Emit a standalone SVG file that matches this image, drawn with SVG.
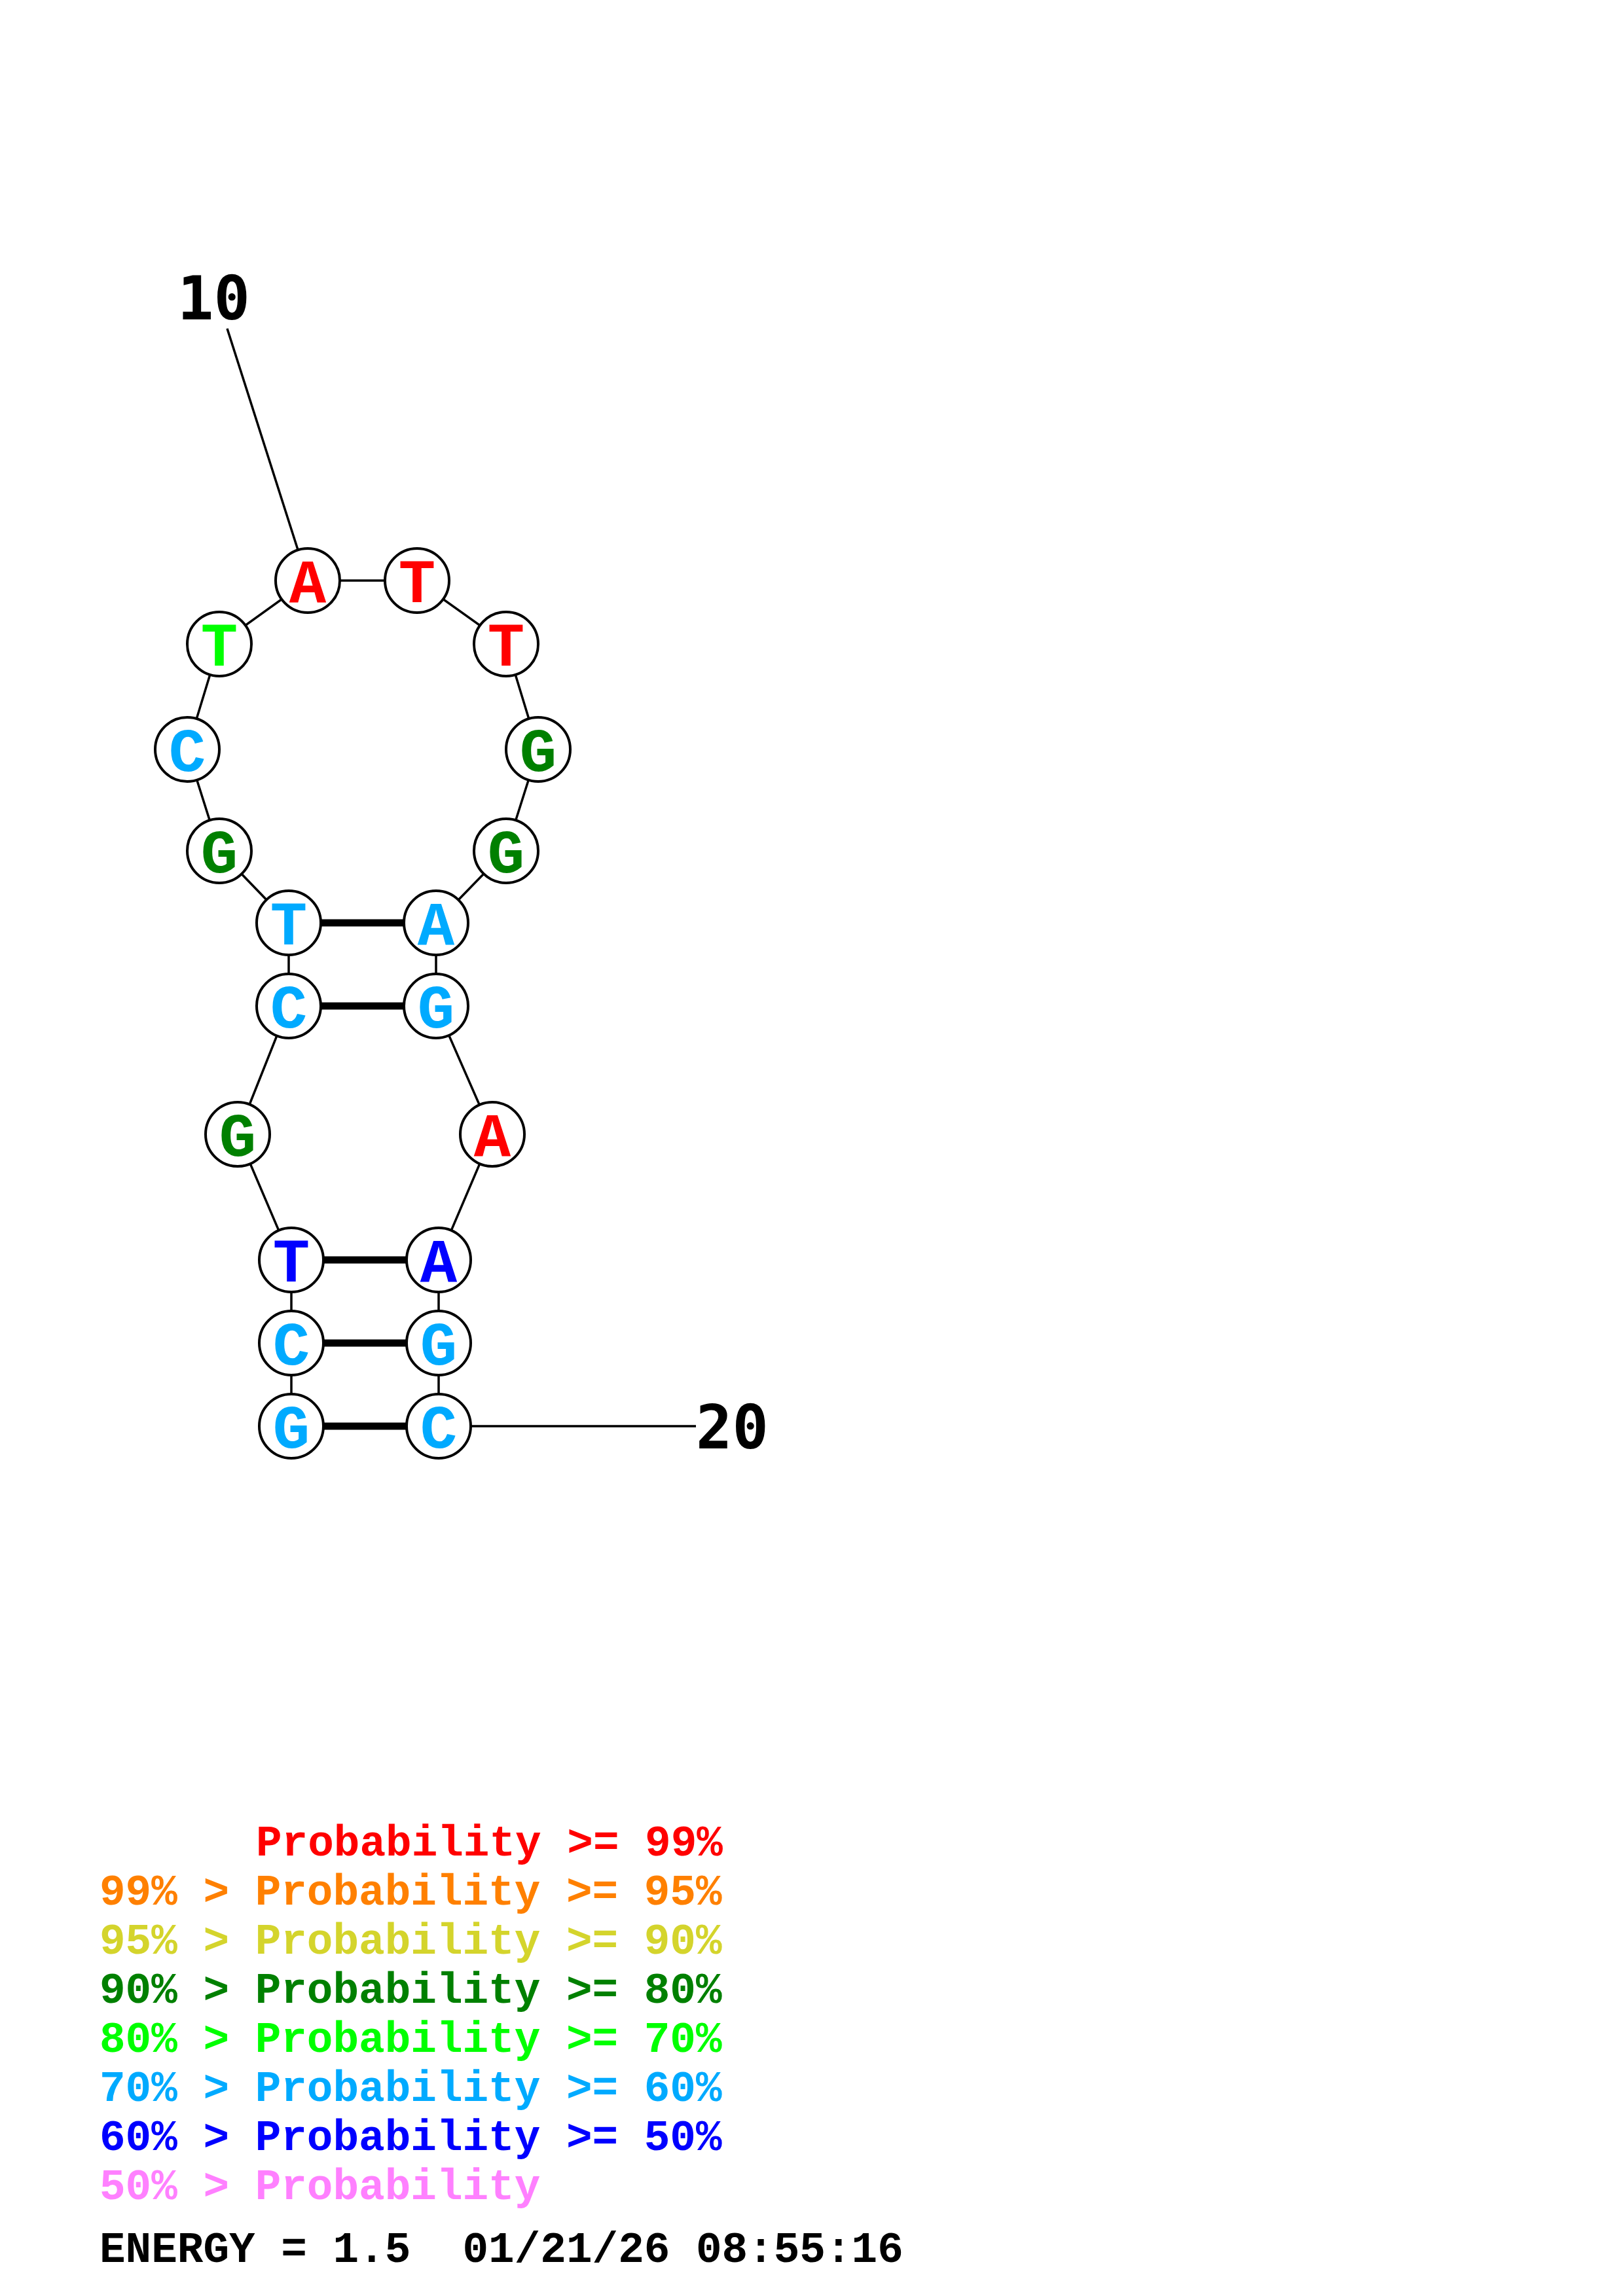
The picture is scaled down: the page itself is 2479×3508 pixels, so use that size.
<svg xmlns="http://www.w3.org/2000/svg" width="2479" height="3508" viewBox="0 0 2479 3508">
<style>
.bb{stroke:#000;stroke-width:3.5;fill:none}
.bp{stroke:#000;stroke-width:11;fill:none}
.nc{fill:#fff;stroke:#000;stroke-width:4}
.nt{font-family:"Liberation Mono","Courier New",monospace;font-weight:bold;font-size:94px;text-anchor:middle}
.num{font-family:"DejaVu Sans Mono","Liberation Mono",monospace;font-weight:bold;font-size:92px}
.lg{font-family:"Liberation Mono","Courier New",monospace;font-weight:bold;font-size:66px}
.r{fill:#FF0000}.o{fill:#FF8000}.y{fill:#D4D42C}.dg{fill:#008000}.g{fill:#00FF00}.lb{fill:#00AAFF}.b{fill:#0000FF}.p{fill:#FF80FF}.k{fill:#000}
</style>
<rect width="2479" height="3508" fill="#fff"/>
<g id="connectors">
<line class="bb" x1="347" y1="502" x2="470" y2="887"/>
<polyline class="bb" points="445,2179 445,2052 445,1925 363,1733 441,1537 441,1410 335,1300 286,1145 335,984 470,887 637,887 773,984 822,1145 773,1300 666,1410 666,1537 752,1733 670,1925 670,2052 670,2179 1063,2179"/>
<line class="bp" x1="441" y1="1410" x2="666" y2="1410"/>
<line class="bp" x1="441" y1="1537" x2="666" y2="1537"/>
<line class="bp" x1="445" y1="1925" x2="670" y2="1925"/>
<line class="bp" x1="445" y1="2052" x2="670" y2="2052"/>
<line class="bp" x1="445" y1="2179" x2="670" y2="2179"/>
</g>
<g id="label10"><text class="num k" x="271" y="488">10</text></g>
<g id="label20"><text class="num k" x="1063" y="2213">20</text></g>
<g id="n1"><circle class="nc" cx="445" cy="2179" r="49"/><text class="nt lb" x="445" y="2212">G</text></g>
<g id="n2"><circle class="nc" cx="445" cy="2052" r="49"/><text class="nt lb" x="445" y="2085">C</text></g>
<g id="n3"><circle class="nc" cx="445" cy="1925" r="49"/><text class="nt b" x="445" y="1958">T</text></g>
<g id="n4"><circle class="nc" cx="363" cy="1733" r="49"/><text class="nt dg" x="363" y="1766">G</text></g>
<g id="n5"><circle class="nc" cx="441" cy="1537" r="49"/><text class="nt lb" x="441" y="1570">C</text></g>
<g id="n6"><circle class="nc" cx="441" cy="1410" r="49"/><text class="nt lb" x="441" y="1443">T</text></g>
<g id="n7"><circle class="nc" cx="335" cy="1300" r="49"/><text class="nt dg" x="335" y="1333">G</text></g>
<g id="n8"><circle class="nc" cx="286" cy="1145" r="49"/><text class="nt lb" x="286" y="1178">C</text></g>
<g id="n9"><circle class="nc" cx="335" cy="984" r="49"/><text class="nt g" x="335" y="1017">T</text></g>
<g id="n10"><circle class="nc" cx="470" cy="887" r="49"/><text class="nt r" x="470" y="920">A</text></g>
<g id="n11"><circle class="nc" cx="637" cy="887" r="49"/><text class="nt r" x="637" y="920">T</text></g>
<g id="n12"><circle class="nc" cx="773" cy="984" r="49"/><text class="nt r" x="773" y="1017">T</text></g>
<g id="n13"><circle class="nc" cx="822" cy="1145" r="49"/><text class="nt dg" x="822" y="1178">G</text></g>
<g id="n14"><circle class="nc" cx="773" cy="1300" r="49"/><text class="nt dg" x="773" y="1333">G</text></g>
<g id="n15"><circle class="nc" cx="666" cy="1410" r="49"/><text class="nt lb" x="666" y="1443">A</text></g>
<g id="n16"><circle class="nc" cx="666" cy="1537" r="49"/><text class="nt lb" x="666" y="1570">G</text></g>
<g id="n17"><circle class="nc" cx="752" cy="1733" r="49"/><text class="nt r" x="752" y="1766">A</text></g>
<g id="n18"><circle class="nc" cx="670" cy="1925" r="49"/><text class="nt b" x="670" y="1958">A</text></g>
<g id="n19"><circle class="nc" cx="670" cy="2052" r="49"/><text class="nt lb" x="670" y="2085">G</text></g>
<g id="n20"><circle class="nc" cx="670" cy="2179" r="49"/><text class="nt lb" x="670" y="2212">C</text></g>
<g id="legend">
<text class="lg r" x="391" y="2835">Probability &gt;= 99%</text>
<text class="lg o" x="152" y="2910">99% &gt; Probability &gt;= 95%</text>
<text class="lg y" x="152" y="2985">95% &gt; Probability &gt;= 90%</text>
<text class="lg dg" x="152" y="3060">90% &gt; Probability &gt;= 80%</text>
<text class="lg g" x="152" y="3135">80% &gt; Probability &gt;= 70%</text>
<text class="lg lb" x="152" y="3210">70% &gt; Probability &gt;= 60%</text>
<text class="lg b" x="152" y="3285">60% &gt; Probability &gt;= 50%</text>
<text class="lg p" x="152" y="3360">50% &gt; Probability</text>
<text class="lg k" x="152" y="3456" xml:space="preserve">ENERGY = 1.5  01/21/26 08:55:16</text>
</g>
</svg>
